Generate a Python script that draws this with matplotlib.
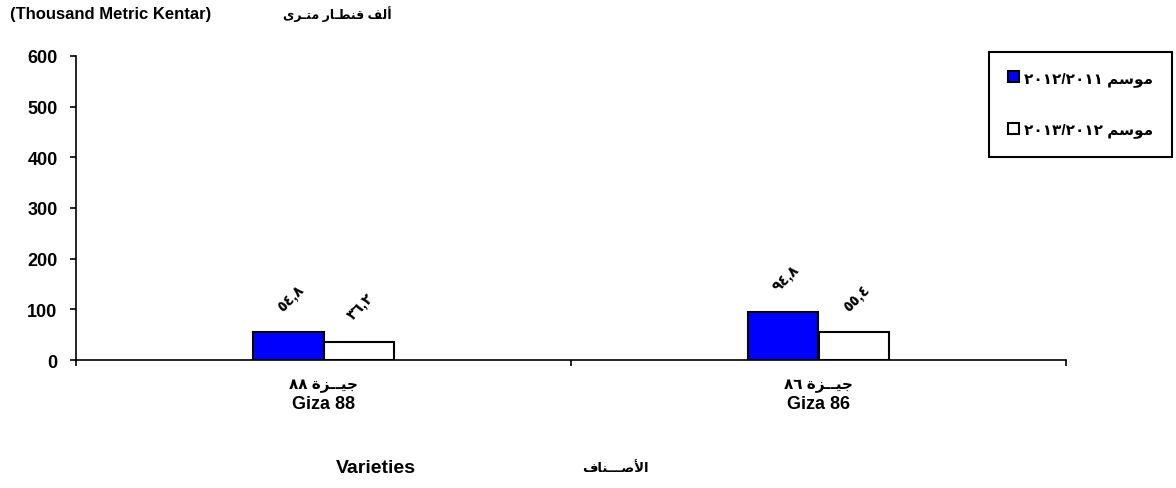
import matplotlib
matplotlib.use('Agg')
import matplotlib.pyplot as plt
import numpy as np

# data
categories_ar = ['جيــزة ٨٨', 'جيــزة ٨٦']
categories_en = ['Giza 88', 'Giza 86']
season_labels = ['موسم ٢٠١٢/٢٠١١', 'موسم ٢٠١٣/٢٠١٢']
season1 = [54.8, 94.8]
season2 = [36.2, 55.4]
yticks = [0, 100, 200, 300, 400, 500, 600]

unit_en = '(Thousand Metric Kentar)'
unit_ar = 'ألف قنطـار متـرى'
xlabel_en = 'Varieties'
xlabel_ar = 'الأصـــناف'

FONT = ['Liberation Sans', 'DejaVu Sans']
plt.rcParams['font.family'] = FONT
plt.rcParams['font.weight'] = 'bold'

# presentation forms: isolated, final, initial, medial
FORMS = {
    'ا': ('\uFE8D', '\uFE8E', None, None),
    'أ': ('\uFE83', '\uFE84', None, None),
    'ت': ('\uFE95', '\uFE96', '\uFE97', '\uFE98'),
    'ة': ('\uFE93', '\uFE94', None, None),
    'ج': ('\uFE9D', '\uFE9E', '\uFE9F', '\uFEA0'),
    'ر': ('\uFEAD', '\uFEAE', None, None),
    'ز': ('\uFEAF', '\uFEB0', None, None),
    'س': ('\uFEB1', '\uFEB2', '\uFEB3', '\uFEB4'),
    'ص': ('\uFEB9', '\uFEBA', '\uFEBB', '\uFEBC'),
    'ط': ('\uFEC1', '\uFEC2', '\uFEC3', '\uFEC4'),
    'ف': ('\uFED1', '\uFED2', '\uFED3', '\uFED4'),
    'ق': ('\uFED5', '\uFED6', '\uFED7', '\uFED8'),
    'ل': ('\uFEDD', '\uFEDE', '\uFEDF', '\uFEE0'),
    'م': ('\uFEE1', '\uFEE2', '\uFEE3', '\uFEE4'),
    'ن': ('\uFEE5', '\uFEE6', '\uFEE7', '\uFEE8'),
    'و': ('\uFEED', '\uFEEE', None, None),
    'ى': ('\uFEEF', '\uFEF0', None, None),
    'ي': ('\uFEF1', '\uFEF2', '\uFEF3', '\uFEF4'),
    'ـ': ('\u0640', '\u0640', '\u0640', '\u0640'),
    'لأ': ('\uFEF7', '\uFEF8', None, None),
}
DIGITS = set('٠١٢٣٤٥٦٧٨٩٫/,')


def shape(word):
    toks = []
    i = 0
    while i < len(word):
        if word[i:i + 2] == 'لأ':
            toks.append('لأ')
            i += 2
        else:
            toks.append(word[i])
            i += 1
    out = []
    for k, t in enumerate(toks):
        if t not in FORMS:
            out.append(t)
            continue
        prev = toks[k - 1] if k > 0 else None
        nxt = toks[k + 1] if k + 1 < len(toks) else None
        jp = prev in FORMS and FORMS[prev][2] is not None
        jn = FORMS[t][2] is not None and nxt in FORMS
        f = FORMS[t]
        out.append(f[3] if jp and jn else f[1] if jp else f[2] if jn else f[0])
    return ''.join(out)


def ar(text):
    """logical arabic -> shaped, visual (left to right) order"""
    runs = []
    for ch in text:
        isdig = ch in DIGITS
        if runs and runs[-1][0] == isdig:
            runs[-1][1] += ch
        else:
            runs.append([isdig, ch])
    parts = [r[1] if r[0] else shape(r[1])[::-1] for r in runs]
    return ''.join(parts[::-1])


def ar_num(v):
    return str(v).translate(str.maketrans('0123456789.', '٠١٢٣٤٥٦٧٨٩,'))


W, H = 1176, 489
fig = plt.figure(figsize=(W / 100, H / 100), dpi=100)
ax = fig.add_axes([76 / W, 1 - 361 / H, 990 / W, 304 / H])

x = np.arange(len(categories_en))
bw = 0.143
b1 = ax.bar(x - bw / 2, season1, bw, color='#0000ff', edgecolor='black', linewidth=1.5,
            label=ar(season_labels[0]))
b2 = ax.bar(x + bw / 2, season2, bw, color='white', edgecolor='black', linewidth=1.5,
            label=ar(season_labels[1]))

for xs, vals in [(x - bw / 2, season1), (x + bw / 2, season2)]:
    for xi, v in zip(xs, vals):
        ax.annotate(ar_num(v), (xi, v), xytext=(2, 25), textcoords='offset points',
                    rotation=45, ha='center', va='center', fontsize=10.5)

ax.set_xlim(-0.5, 1.5)
ax.set_ylim(0, 600)
ax.set_yticks(yticks)
ax.tick_params(axis='y', length=4.3, width=1.2, labelsize=13, pad=9)
ax.set_xticks([-0.5, 0.5, 1.5])
ax.set_xticklabels([])
ax.tick_params(axis='x', length=4.3, width=1.2)
for s in ['top', 'right']:
    ax.spines[s].set_visible(False)
for s in ['left', 'bottom']:
    ax.spines[s].set_linewidth(1.2)

# two-line category labels (arabic above english)
for xi, a, e in zip(x, categories_ar, categories_en):
    ax.annotate(ar(a), (xi, 0), xycoords=('data', 'axes fraction'),
                xytext=(0, -25 / 1.389), textcoords='offset points',
                ha='center', va='center', fontsize=11)
    ax.annotate(e, (xi, 0), xycoords=('data', 'axes fraction'),
                xytext=(0, -44 / 1.389), textcoords='offset points',
                ha='center', va='center', fontsize=13)

fig.text(10 / W, 1 - 15 / H, unit_en, ha='left', va='center', fontsize=12)
fig.text(337 / W, 1 - 14 / H, ar(unit_ar), ha='center', va='center', fontsize=9)
fig.text(376 / W, 1 - 469 / H, xlabel_en, ha='center', va='center', fontsize=14)
fig.text(615 / W, 1 - 469 / H, ar(xlabel_ar), ha='center', va='center', fontsize=9.5)

leg = fig.legend(handles=[b1, b2], loc='upper right', bbox_to_anchor=(1172 / W, 1 - 53 / H),
                 borderaxespad=0, fancybox=False, edgecolor='black', framealpha=1,
                 handlelength=0.75, handleheight=0.75, handletextpad=0.3,
                 labelspacing=2.4, borderpad=1.25, fontsize=11)
leg.get_frame().set_linewidth(1.5)

fig.savefig('out.png', dpi=100)
